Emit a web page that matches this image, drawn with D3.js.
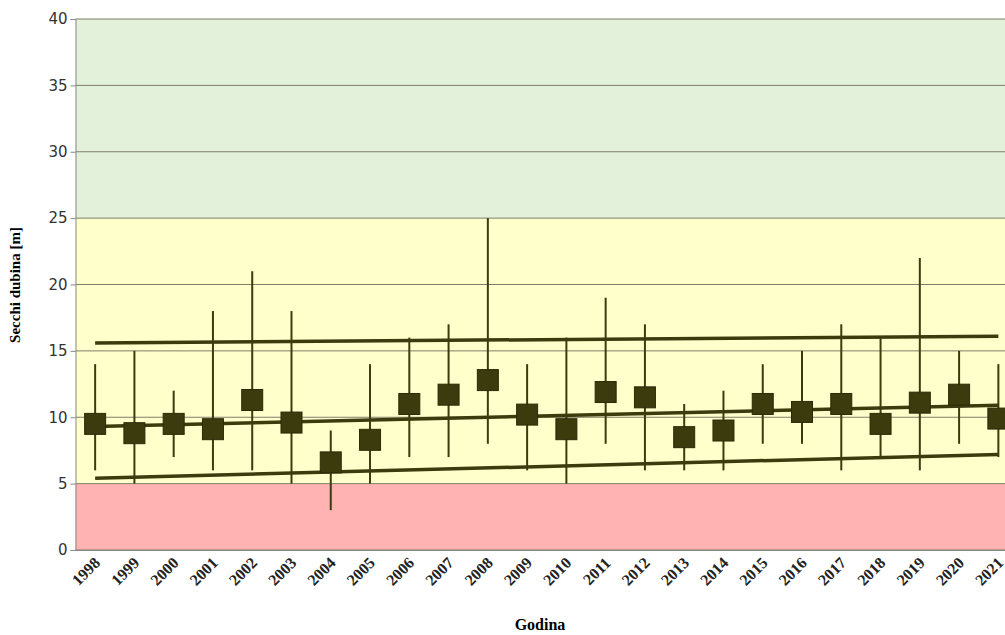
<!DOCTYPE html>
<html>
<head>
<meta charset="utf-8">
<script src="https://cdn.jsdelivr.net/npm/d3@7"></script>
<style>
  body { margin: 0; background: #fff; }
  svg { display: block; }
</style>
</head>
<body>
<svg id="chart" width="1005" height="635"></svg>
<script>
// data
var years = ["1998","1999","2000","2001","2002","2003","2004","2005","2006","2007","2008","2009",
             "2010","2011","2012","2013","2014","2015","2016","2017","2018","2019","2020","2021"];
var meanDepth = [9.5, 8.8, 9.5, 9.1, 11.3, 9.6, 6.6, 8.3, 11.0, 11.7, 12.8, 10.2,
                 9.1, 11.9, 11.5, 8.5, 9.0, 11.0, 10.4, 11.0, 9.5, 11.1, 11.7, 9.9];
var minDepth = [6, 5, 7, 6, 6, 5, 3, 5, 7, 7, 8, 6, 5, 8, 6, 6, 6, 8, 8, 6, 7, 6, 8, 7];
var maxDepth = [14, 15, 12, 18, 21, 18, 9, 14, 16, 17, 25, 14, 16, 19, 17, 11, 12, 14, 15, 17, 16, 22, 15, 14];
// trend lines: value at first and last year
var trendUpper = [15.6, 16.1];
var trendMid = [9.3, 10.9];
var trendLower = [5.4, 7.2];
var zones = [{from: 0, to: 5, color: "#FFB3B3"}, {from: 5, to: 25, color: "#FFFFCC"}, {from: 25, to: 40, color: "#E4F1DA"}];
var yTicks = [0, 5, 10, 15, 20, 25, 30, 35, 40];

var svg = d3.select("#chart");
var plotLeft = 75.5, plotRight = 1018, plotTop = 19, plotBottom = 550;

var x = d3.scaleBand().domain(years).range([plotLeft, plotRight]);
var y = d3.scaleLinear().domain([0, 40]).range([plotBottom, plotTop]);
var cx = function(i) { return x(years[i]) + x.bandwidth() / 2; };

// background zones
svg.selectAll("rect.zone").data(zones).enter().append("rect")
  .attr("x", plotLeft).attr("width", plotRight - plotLeft)
  .attr("y", d => y(d.to)).attr("height", d => y(d.from) - y(d.to))
  .attr("fill", d => d.color);

// gridlines
svg.selectAll("line.grid").data(yTicks).enter().append("line")
  .attr("x1", plotLeft).attr("x2", plotRight)
  .attr("y1", d => y(d)).attr("y2", d => y(d))
  .attr("stroke", "#7f7f6a").attr("stroke-width", 1);

// y axis
var yAxis = svg.append("g").attr("transform", "translate(" + plotLeft + ",0)")
  .call(d3.axisLeft(y).tickValues(yTicks).tickSize(5));
yAxis.select(".domain").attr("stroke", "#888");
yAxis.selectAll(".tick line").attr("stroke", "#888");
yAxis.selectAll("text").attr("font-family", "Verdana, DejaVu Sans, sans-serif").attr("font-size", 15).attr("fill", "#333");

// x axis
var xAxis = svg.append("g").attr("transform", "translate(0," + plotBottom + ")")
  .call(d3.axisBottom(x).tickSize(0));
xAxis.select(".domain").attr("stroke", "#888");
xAxis.selectAll("text")
  .attr("font-family", "Times New Roman, Liberation Serif, serif").attr("font-weight", "bold")
  .attr("font-size", 16).attr("fill", "#222")
  .attr("text-anchor", "end").attr("dy", "0.35em").attr("y", 0)
  .attr("transform", "translate(2,10) rotate(-45)");

// error bars
svg.selectAll("line.err").data(years).enter().append("line")
  .attr("x1", (d, i) => cx(i)).attr("x2", (d, i) => cx(i))
  .attr("y1", (d, i) => y(minDepth[i])).attr("y2", (d, i) => y(maxDepth[i]))
  .attr("stroke", "#3b3b0e").attr("stroke-width", 2);

// trend lines
[trendUpper, trendMid, trendLower].forEach(function(t) {
  svg.append("line")
    .attr("x1", cx(0)).attr("x2", cx(years.length - 1))
    .attr("y1", y(t[0])).attr("y2", y(t[1]))
    .attr("stroke", "#3b3b0e").attr("stroke-width", 3.5);
});

// markers
var s = 21;
svg.selectAll("rect.mark").data(meanDepth).enter().append("rect")
  .attr("x", (d, i) => cx(i) - s / 2).attr("y", d => y(d) - s / 2)
  .attr("width", s).attr("height", s)
  .attr("fill", "#3b3b0e").attr("stroke", "#2a2a08").attr("stroke-width", 1);

// axis titles
svg.append("text").attr("x", 540).attr("y", 630).attr("text-anchor", "middle")
  .attr("font-family", "Times New Roman, Liberation Serif, serif").attr("font-weight", "bold")
  .attr("font-size", 16).text("Godina");
svg.append("text").attr("transform", "translate(20,285) rotate(-90)").attr("text-anchor", "middle")
  .attr("font-family", "Times New Roman, Liberation Serif, serif").attr("font-weight", "bold")
  .attr("font-size", 15).text("Secchi dubina  [m]");
</script>
</body>
</html>
